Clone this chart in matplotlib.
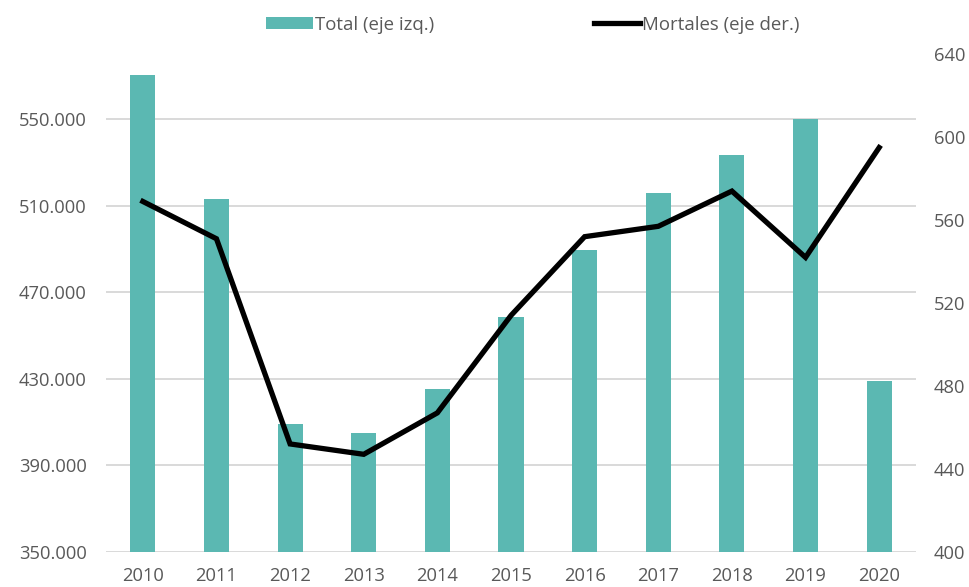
import matplotlib
matplotlib.use('Agg')
import matplotlib.pyplot as plt
from matplotlib.ticker import FuncFormatter
from matplotlib.patches import Patch
from matplotlib.lines import Line2D

plt.rcParams['font.family'] = ['Open Sans', 'DejaVu Sans']

years = ['2010', '2011', '2012', '2013', '2014', '2015',
         '2016', '2017', '2018', '2019', '2020']
total = [570200, 513000, 408900, 404700, 425300, 458500,
         489400, 515700, 533500, 550000, 429000]
mortales = [569, 551, 452, 447, 467, 514, 552, 557, 574, 542, 595]

left_ticks = [350000, 390000, 430000, 470000, 510000, 550000]
right_ticks = [400, 440, 480, 520, 560, 600, 640]

BAR = '#5BB8B2'
GRID = '#D9D9D9'
TXT = '#595959'


def miles(v, pos):
    return f"{int(round(v)):,}".replace(',', '.')


fig = plt.figure(figsize=(9.69, 5.87), dpi=100)
ax = fig.add_axes([0.1094, 0.0601, 0.8359, 0.8474])
ax2 = ax.twinx()

x = range(len(years))
ax.bar(x, total, width=0.34, color=BAR, zorder=2)
ax2.plot(x, mortales, color='black', lw=3.8, solid_joinstyle='miter', zorder=3)

ax.set_xlim(-0.5, len(years) - 0.5)
ax.set_ylim(350000, 580000)
ax2.set_ylim(400, 640)

ax.set_yticks(left_ticks)
ax.yaxis.set_major_formatter(FuncFormatter(miles))
ax2.set_yticks(right_ticks)
ax.set_xticks(list(x))
ax.set_xticklabels(years)

for a in (ax, ax2):
    for s in a.spines.values():
        s.set_visible(False)

ax.grid(axis='y', color=GRID, lw=1.4, zorder=0)
ax.set_axisbelow(True)

ax.tick_params(axis='y', length=0, pad=14, labelsize=13.2, labelcolor=TXT)
ax.tick_params(axis='x', length=0, pad=11, labelsize=13.2, labelcolor=TXT)
ax2.tick_params(axis='y', length=0, pad=13, labelsize=13.2, labelcolor=TXT)

handles = [Patch(facecolor=BAR, edgecolor='none'),
           Line2D([0], [0], color='black', lw=3.8)]
fig.legend(handles, ['Total (eje izq.)', 'Mortales (eje der.)'],
           loc='center', bbox_to_anchor=(0.55, 0.958), ncol=2, frameon=False,
           fontsize=13.4, labelcolor=TXT, handlelength=2.5, handleheight=0.6,
           handletextpad=0.1, columnspacing=8.6)

fig.savefig('out.png', dpi=100)
